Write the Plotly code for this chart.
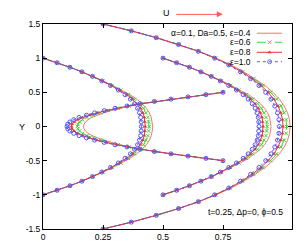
import plotly.graph_objects as go

# ---- data: half trajectories (from wall y=h down to centre y=0), mirrored about y=0
eps_labels = ["α=0.1, Da=0.5, ε=0.4", "ε=0.6", "ε=0.8", "ε=1.0"]

yA = [1.5, 1.4, 1.3, 1.2, 1.1, 1.0, 0.9, 0.8, 0.7, 0.6, 0.5, 0.4, 0.3, 0.2, 0.1, 0.0]
yB = [1.0, 0.9333, 0.8667, 0.8, 0.7333, 0.6667, 0.6, 0.5333, 0.4667, 0.4, 0.3333, 0.2667, 0.2, 0.1333, 0.0667, 0.0]
yC = yB
yD = [0.5, 0.4667, 0.4333, 0.4, 0.3667, 0.3333, 0.3, 0.2667, 0.2333, 0.2, 0.1667, 0.1333, 0.1, 0.0667, 0.0333, 0.0]

xA = {
    0.4: [.250, .368, .472, .566, .650, .721, .784, .837, .884, .925, .958, .985, 1.005, 1.019, 1.027, 1.030],
    0.6: [.250, .368, .472, .566, .649, .719, .780, .832, .878, .917, .948, .974, .992, 1.005, 1.013, 1.015],
    0.8: [.250, .368, .472, .565, .648, .717, .777, .828, .871, .908, .938, .962, .979, .991, .998, 1.000],
    1.0: [.250, .368, .472, .565, .647, .715, .774, .823, .865, .900, .928, .950, .966, .977, .983, .985],
}
xB = {
    0.4: [.500, .557, .611, .660, .705, .746, .785, .822, .856, .883, .906, .923, .936, .944, .948, .950],
    0.6: [.500, .557, .610, .659, .703, .743, .781, .816, .848, .873, .894, .910, .921, .929, .932, .934],
    0.8: [.500, .557, .610, .658, .702, .741, .778, .811, .841, .864, .883, .897, .906, .913, .915, .917],
    1.0: [.500, .557, .610, .658, .701, .739, .774, .806, .834, .855, .872, .884, .892, .897, .899, .900],
}
xC = {
    0.4: [0, .059, .113, .163, .209, .251, .291, .329, .362, .390, .413, .431, .443, .451, .455, .457],
    0.6: [0, .059, .112, .163, .208, .249, .288, .324, .356, .381, .402, .419, .429, .437, .440, .442],
    0.8: [0, .059, .112, .162, .207, .247, .284, .319, .349, .373, .391, .406, .416, .422, .424, .426],
    1.0: [0, .059, .112, .162, .206, .245, .281, .314, .342, .364, .381, .394, .402, .407, .409, .410],
}
xD = {
    0.4: [.750, .679, .605, .535, .469, .414, .365, .321, .285, .253, .227, .204, .188, .177, .171, .169],
    0.6: [.750, .679, .604, .534, .467, .411, .359, .313, .273, .239, .210, .183, .165, .152, .145, .143],
    0.8: [.750, .679, .604, .534, .465, .407, .354, .306, .263, .225, .194, .165, .144, .130, .121, .119],
    1.0: [.750, .679, .604, .533, .464, .405, .350, .300, .255, .215, .181, .150, .128, .112, .103, .100],
}

x_ticks = [0, 0.25, 0.5, 0.75]
x_ticktext = ["0", "0.25", "0.5", "0.75"]
y_ticks = [-1.5, -1, -0.5, 0, 0.5, 1, 1.5]
y_ticktext = ["-1.5", "-1", "-0.5", "0", "0.5", "1", "1.5"]

styles = {
    0.4: dict(color="#ff7070", dash="solid", marker=None),
    0.6: dict(color="#33dd33", dash="dash", marker=dict(symbol="x-thin-open", size=3.5, line=dict(width=1, color="#33dd33"))),
    0.8: dict(color="#f03030", dash="solid", marker=dict(symbol="triangle-up", size=3.5, color="#f03030")),
    1.0: dict(color="#5555ff", dash="dot", marker=dict(symbol="circle-open", size=4, line=dict(width=1, color="#6060ff"))),
}

def full(xh, yh):
    xs = list(xh) + list(reversed(xh[:-1]))
    ys = list(yh) + [-v for v in reversed(yh[:-1])]
    return xs, ys

FONT = "Liberation Sans, Arial, sans-serif"
fig = go.Figure()

for e in [0.4, 0.6, 0.8, 1.0]:
    X, Y = [], []
    for xs_dict, yh in ((xA, yA), (xB, yB), (xC, yC), (xD, yD)):
        xs, ys = full(xs_dict[e], yh)
        X += xs + [None]
        Y += ys + [None]
    st = styles[e]
    mode = "lines" if st["marker"] is None else "lines+markers"
    tr = go.Scatter(x=X, y=Y, mode=mode, line=dict(color=st["color"], width=1, dash=st["dash"]),
                    showlegend=False, hoverinfo="skip")
    if st["marker"] is not None:
        tr.marker = st["marker"]
    fig.add_trace(tr)

# ---- gnuplot-style key (text right, sample on the right) on an overlay axis in plot fractions
key_y = [0.955, 0.911, 0.862, 0.816]
for i, e in enumerate([0.4, 0.6, 0.8, 1.0]):
    st = styles[e]
    fig.add_trace(go.Scatter(x=[0.859, 0.960], y=[key_y[i], key_y[i]], xaxis="x2", yaxis="y2",
                             mode="lines", line=dict(color=st["color"], width=1, dash=st["dash"]),
                             showlegend=False, hoverinfo="skip"))
    if st["marker"] is not None:
        fig.add_trace(go.Scatter(x=[0.910], y=[key_y[i]], xaxis="x2", yaxis="y2", mode="markers",
                                 marker=st["marker"], showlegend=False, hoverinfo="skip"))
    fig.add_annotation(x=0.845, y=key_y[i], xref="paper", yref="paper", text=eps_labels[i],
                       showarrow=False, xanchor="right", yanchor="middle",
                       font=dict(family=FONT, size=8.5, color="black"))

# "U" with arrow
fig.add_annotation(x=0.494, y=1.054, xref="paper", yref="paper", text="U", showarrow=False,
                   xanchor="center", yanchor="middle", font=dict(family=FONT, size=9, color="black"))
fig.add_annotation(x=0.722, y=1.047, xref="paper", yref="paper", text="", showarrow=True,
                   ax=-48, ay=0, arrowhead=2, arrowsize=1.2, arrowwidth=1, arrowcolor="#ff5a5a")
fig.add_annotation(x=0.972, y=0.083, xref="paper", yref="paper", text="t=0.25, Δp=0, ϕ=0.5",
                   showarrow=False, xanchor="right", yanchor="middle",
                   font=dict(family=FONT, size=8.5, color="black"))
fig.add_annotation(x=-0.084, y=0.5, xref="paper", yref="paper", text="Y", showarrow=False,
                   xanchor="center", yanchor="middle", font=dict(family=FONT, size=9, color="black"))

axis_common = dict(showgrid=False, zeroline=False, showline=True, linecolor="black", linewidth=1,
                   mirror="ticks", ticks="inside", ticklen=4, tickcolor="black", tickwidth=1,
                   automargin=False,
                   tickfont=dict(family=FONT, size=8.5, color="black"))
# page body has an 8px default margin: figure is 297x241 so the plot lands where the reference has it
fig.update_layout(
    width=297, height=241,
    margin=dict(l=35, r=13, t=16, b=20, autoexpand=False),
    paper_bgcolor="white", plot_bgcolor="white",
    xaxis=dict(range=[0, 1.0375], tickvals=x_ticks, ticktext=x_ticktext, **axis_common),
    yaxis=dict(range=[-1.5, 1.5], tickvals=y_ticks, ticktext=y_ticktext, **axis_common),
    xaxis2=dict(overlaying="x", range=[0, 1], visible=False),
    yaxis2=dict(overlaying="y", range=[0, 1], visible=False),
    showlegend=False,
)
fig.write_html("out.html")
